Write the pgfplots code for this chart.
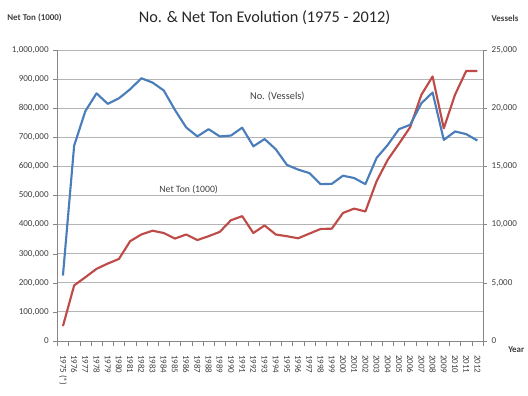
\documentclass[border=0pt]{standalone}
\usepackage{fontspec}
\setmainfont{Carlito}
\usepackage{pgfplots}
\pgfplotsset{compat=1.18}
\definecolor{exblue}{HTML}{4A7EBB}
\definecolor{exred}{HTML}{BE4B48}
\definecolor{axgray}{HTML}{868686}
\definecolor{grdgray}{HTML}{B4B4B4}
\definecolor{txtgray}{HTML}{404040}
\begin{document}
\begin{tikzpicture}
\path[use as bounding box] (0,0) rectangle (396pt,297pt);
\pgfplotsset{
  commonax/.style={
    at={(43pt,41.25pt)}, anchor=south west, scale only axis,
    width=319.25pt, height=218.25pt,
    xmin=-0.5, xmax=37.5,
    scaled y ticks=false,
    tick label style={font=\fontsize{6.8}{8}\selectfont, text=txtgray},
    axis line style={axgray},
    tick style={axgray},
    clip=false,
  }
}
\begin{axis}[commonax,
  ymin=0, ymax=1000000,
  axis x line*=bottom, axis y line*=left,
  ytick={0,100000,200000,300000,400000,500000,600000,700000,800000,900000,1000000},
  yticklabels={0,100{,}000,200{,}000,300{,}000,400{,}000,500{,}000,600{,}000,700{,}000,800{,}000,900{,}000,{1,000,000}},
  ymajorgrids, grid style={grdgray, line width=0.6pt},
  tick align=outside, major tick length=3pt,
  xtick={0,...,37},
  xticklabels={1975 (*),1976,1977,1978,1979,1980,1981,1982,1983,1984,1985,1986,1987,1988,1989,1990,1991,1992,1993,1994,1995,1996,1997,1998,1999,2000,2001,2002,2003,2004,2005,2006,2007,2008,2009,2010,2011,2012},
  major x tick style={draw=none},
  minor xtick={-0.5,0.5,...,37.5},
  minor tick length=4pt,
  xticklabel shift=4pt,
  xticklabel style={rotate=-90, anchor=west, font=\fontsize{6.7}{8}\selectfont},
]
\addplot[exred, line width=1.6pt, line join=round] coordinates {
(0,51000) (1,191000) (2,219000) (3,248000) (4,266000) (5,282000) (6,343000) (7,366000)
(8,379000) (9,371000) (10,352000) (11,366000) (12,347000) (13,360000) (14,375000) (15,415000)
(16,429000) (17,371000) (18,397000) (19,366000) (20,360000) (21,353000) (22,369000) (23,385000)
(24,386000) (25,440000) (26,455000) (27,445000) (28,549000) (29,623000) (30,678000) (31,735000)
(32,846000) (33,909000) (34,731000) (35,846000) (36,928000) (37,928000)};
\end{axis}
\begin{axis}[commonax,
  ymin=0, ymax=25000,
  axis x line=none, axis y line*=right,
  ytick={0,5000,10000,15000,20000,25000},
  yticklabels={0,{5,000},{10,000},{15,000},{20,000},{25,000}},
  tick align=outside, major tick length=3pt,
  xtick=\empty,
]
\addplot[exblue, line width=1.6pt, line join=round] coordinates {
(0,5625) (1,16775) (2,19750) (3,21275) (4,20375) (5,20850) (6,21625) (7,22575)
(8,22200) (9,21525) (10,19850) (11,18350) (12,17575) (13,18200) (14,17575) (15,17650)
(16,18325) (17,16725) (18,17350) (19,16475) (20,15125) (21,14725) (22,14425) (23,13475)
(24,13500) (25,14200) (26,14000) (27,13475) (28,15725) (29,16850) (30,18200) (31,18575)
(32,20425) (33,21350) (34,17275) (35,18000) (36,17775) (37,17225)};
\end{axis}
\node[font=\fontsize{12.2}{14}\selectfont, text=black!85] at (198.4pt,283.5pt) {No. \& Net Ton Evolution (1975 - 2012)};
\node[font=\fontsize{6.7}{8}\selectfont\bfseries, text=txtgray] at (25.9pt,283.5pt) {Net Ton (1000)};
\node[font=\fontsize{6.7}{8}\selectfont\bfseries, text=txtgray] at (378.75pt,283.5pt) {Vessels};
\node[font=\fontsize{6.7}{8}\selectfont\bfseries, text=txtgray, anchor=west, inner sep=0pt] at (381pt,34.5pt) {Year};
\node[font=\fontsize{7.8}{9}\selectfont, text=txtgray] at (208pt,224.5pt) {No. (Vessels)};
\node[font=\fontsize{7.3}{9}\selectfont, text=txtgray] at (141.5pt,154.5pt) {Net Ton (1000)};
\end{tikzpicture}
\end{document}
